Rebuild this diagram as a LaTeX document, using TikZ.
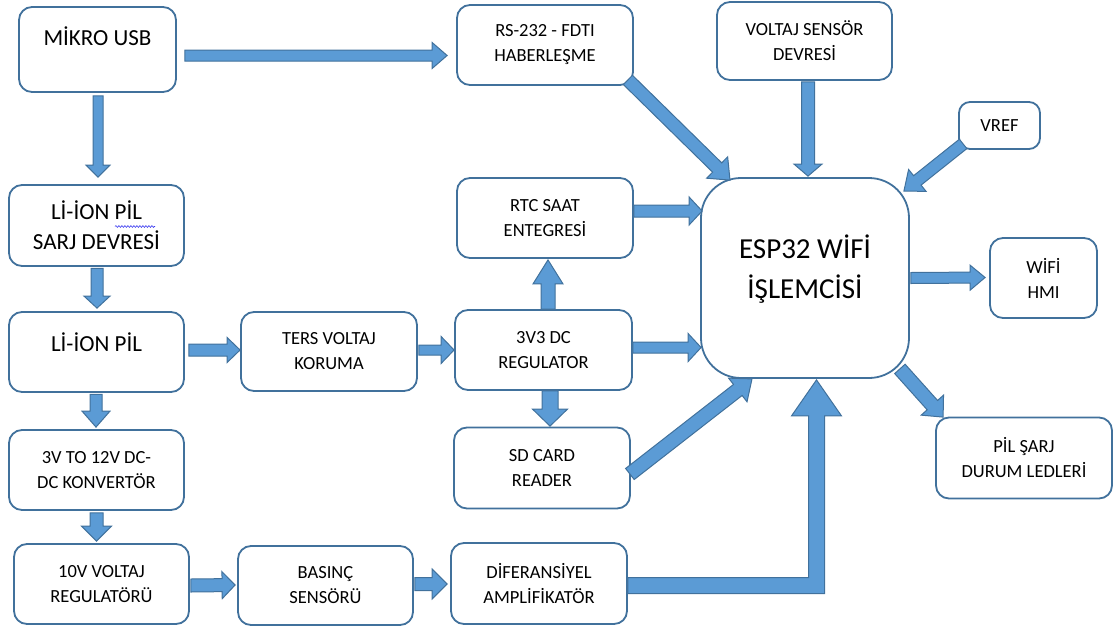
\documentclass[tikz,border=0pt]{standalone}
\usepackage{fontspec}
\setmainfont{Carlito}
\usetikzlibrary{calc,decorations.pathmorphing}
\definecolor{afill}{HTML}{5B9BD5}
\definecolor{aedge}{HTML}{41719C}
\definecolor{bedge}{HTML}{41719C}
\definecolor{squigcol}{HTML}{3A3AF0}
\newcommand\szbig{\fontsize{23}{30}\selectfont}
\newcommand\sznorm{\fontsize{18.5}{25}\selectfont}
\newcommand\szesp{\fontsize{29}{40}\selectfont}
% block arrow: start, end, shaft half width, head half width, head length
\newcommand\barrow[5]{%
 \path[blockarrow] let \p1=#1, \p2=#2, \n1={atan2(\y2-\y1,\x2-\x1)}, \n2={veclen(\x2-\x1,\y2-\y1)-#5} in
 ($(\p1)+(\n1+90:#3)$) -- ($(\p1)+(\n1:\n2)+(\n1+90:#3)$) -- ($(\p1)+(\n1:\n2)+(\n1+90:#4)$) -- (\p2)
 -- ($(\p1)+(\n1:\n2)+(\n1-90:#4)$) -- ($(\p1)+(\n1:\n2)+(\n1-90:#3)$) -- ($(\p1)+(\n1-90:#3)$) -- cycle;}
\tikzset{
 box/.style={draw=bedge, line width=1.8pt, rounded corners=13pt, fill=white, text=black,
   inner sep=0pt, font=\sznorm, minimum width=176pt, minimum height=80pt},
 two/.style={align=center},
 blockarrow/.style={draw=aedge, fill=afill, line width=1pt, line join=miter},
 squig/.style={draw=squigcol, line width=0.6pt, decorate,
   decoration={snake, amplitude=0.9pt, segment length=3pt}}
}
\begin{document}
\begin{tikzpicture}[x=1pt,y=-1pt]
\useasboundingbox (0,0) rectangle (1114,627);
% left column
\node[box, font=\szbig, minimum width=157pt, minimum height=85pt, text height=4pt, text depth=13pt] (usb) at (97.5,49.5) {MİKRO USB};
\node[box, two, font=\szbig, minimum width=175pt, minimum height=81pt] (sarj) at (96.5,225.5) {Lİ-İON PİL\\SARJ DEVRESİ};
\node[box, font=\szbig, minimum width=175pt, text height=8pt, text depth=10pt] (lion) at (96.5,352) {Lİ-İON PİL};
\node[box, two, minimum width=175pt] (conv) at (96.5,470) {3V TO 12V DC-\\DC KONVERTÖR};
\node[box, two, minimum width=175pt] (reg) at (101.5,584) {10V VOLTAJ\\REGULATÖRÜ};
% middle column
\node[box, two, minimum height=79pt] (ters) at (329,351.5) {TERS VOLTAJ\\KORUMA};
\node[box, two, minimum width=175pt, minimum height=79pt] (bas) at (325.5,585.5) {BASINÇ\\SENSÖRÜ};
\node[box, two] (rs) at (545,45) {RS-232 - FDTI\\HABERLEŞME};
\node[box, two] (rtc) at (545,218) {RTC SAAT\\ENTEGRESİ};
\node[box, two, minimum width=177pt] (v33) at (543.5,350) {3V3 DC\\REGULATOR};
\node[box, two, minimum height=81pt] (sd) at (542,468) {SD CARD\\READER};
\node[box, two, minimum height=81pt] (dif) at (539,583.5) {DİFERANSİYEL\\AMPLİFİKATÖR};
% right part
\node[box, two, minimum width=175pt, minimum height=78pt] (volt) at (804.5,41) {VOLTAJ SENSÖR\\DEVRESİ};
\node[box, rounded corners=11pt, minimum width=81pt, minimum height=47pt] (vref) at (999.5,125.5) {VREF};
\node[box, rounded corners=40pt, minimum width=208pt, minimum height=200pt,
  label={[font=\szesp, align=center, yshift=9pt]center:ESP32 WİFİ\\İŞLEMCİSİ}] (esp) at (805,278) {};
\node[box, two, minimum width=107pt] (wifi) at (1043.5,278) {WİFİ\\HMI};
\node[box, two, minimum height=81pt] (led) at (1024,458) {PİL ŞARJ\\DURUM LEDLERİ};
% spelling squiggle under PİL
\draw[squig] ($(sarj.center)+(18.5,1)$) -- ($(sarj.center)+(58.5,1)$);
% arrows
\barrow{($(usb.east)+(8,6)$)}{($(rs.west)+(-9,10.5)$)}{5.5pt}{13pt}{15pt}
\barrow{($(usb.south)+(0.5,3)$)}{($(sarj.north)+(1.5,-7)$)}{5pt}{12pt}{12pt}
\barrow{($(sarj.south)+(0.5,1.5)$)}{($(lion.north)+(0.5,-3)$)}{6pt}{13pt}{12pt}
\barrow{($(lion.south)+(-0.5,1.5)$)}{($(conv.north)+(-0.5,-2)$)}{6pt}{14pt}{16pt}
\barrow{($(conv.south)+(0,2)$)}{($(reg.north)+(-5,-2)$)}{6.5pt}{15pt}{15pt}
\barrow{($(lion.east)+(4,-2)$)}{($(ters.west)+(0,-1.5)$)}{6pt}{12.5pt}{13pt}
\barrow{($(ters.east)+(1,-1.5)$)}{(v33.west)}{5pt}{13.5pt}{13pt}
\barrow{($(reg.east)+(1,1.5)$)}{($(bas.west)+(-2,-0.5)$)}{6.5pt}{13.5pt}{13pt}
\barrow{($(bas.east)+(1,-1.5)$)}{($(dif.west)+(-3,0.5)$)}{6.5pt}{15pt}{15pt}
\barrow{($(v33.north)+(4.5,0)$)}{($(rtc.south)+(3,1)$)}{7pt}{15pt}{24pt}
\barrow{($(v33.south)+(6.5,0)$)}{($(sd.north)+(8,-0.5)$)}{8pt}{17.5pt}{17pt}
\barrow{($(v33.east)+(0,-2.5)$)}{($(esp.west)+(1,69.5)$)}{5.5pt}{14pt}{13pt}
\barrow{($(rtc.east)+(0,-7)$)}{($(esp.west)+(2,-67)$)}{6pt}{14pt}{13pt}
\barrow{($(sd.east)+(-1,6)$)}{($(esp.south)+(-53,0)$)}{7pt}{15pt}{18pt}
\barrow{($(rs.south east)+(-6,-6)$)}{($(esp.north)+(-75,3)$)}{6.5pt}{15pt}{18pt}
\barrow{($(volt.south)+(3.5,1)$)}{($(esp.north)+(3,-1)$)}{6.5pt}{14pt}{12pt}
\barrow{($(vref.south west)+(5,-6)$)}{($(esp.north east)+(-6,14)$)}{6pt}{14pt}{17pt}
\barrow{($(esp.east)+(1,0)$)}{($(wifi.west)+(-4,-0.5)$)}{5.5pt}{12.5pt}{15pt}
\barrow{($(esp.south east)+(-10,-10)$)}{($(led.north west)+(8,0.5)$)}{7pt}{15pt}{16pt}
% big L-shaped arrow from the amplifier
\coordinate (tipL) at ($(esp.south)+(11.5,1)$);
\path[blockarrow] ($(dif.east)+(0,-6)$) -| ($(tipL)+(-8,36)$) -- ++(-17,0) -- (tipL)
  -- ($(tipL)+(25,36)$) -- ++(-17,0) |- ($(dif.east)+(0,10)$) -- cycle;
\end{tikzpicture}
\end{document}
